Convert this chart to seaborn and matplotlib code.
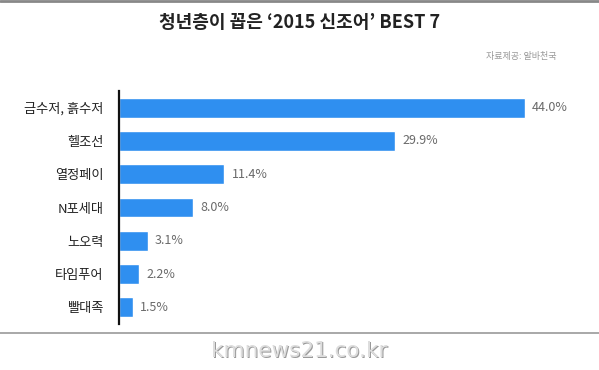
import matplotlib
matplotlib.use('Agg')
import pandas as pd
import seaborn as sns
import matplotlib.pyplot as plt

sns.set_style('white')
plt.rcParams['font.family'] = ['Noto Sans CJK KR', 'DejaVu Sans']

# 2015 신조어 순위 (%)
words = ['금수저, 흙수저', '헬조선', '열정페이', 'N포세대', '노오력', '타임푸어', '빨대족']
shares = [44.0, 29.9, 11.4, 8.0, 3.1, 2.2, 1.5]
value_labels = ['44.0%', '29.9%', '11.4%', '8.0%', '3.1%', '2.2%', '1.5%']

df = pd.DataFrame({'word': words, 'share': shares})

fig = plt.figure(figsize=(5.99, 3.70), dpi=100)
ax = fig.add_axes([119 / 599, 1 - 324 / 370, 461 / 599, 233 / 370])

sns.barplot(data=df, x='share', y='word', orient='h', color='#2f8ff0',
            width=0.6, ax=ax, saturation=1)

ax.set_xlim(0, 50)
ax.set_xlabel('')
ax.set_ylabel('')
ax.set_xticks([])
ax.tick_params(axis='y', length=0, pad=11, labelsize=9.5, labelcolor='#222222')
for s in ['top', 'right', 'bottom']:
    ax.spines[s].set_visible(False)
ax.spines['left'].set_color('#111111')
ax.spines['left'].set_linewidth(1.6)

for i, (v, lab) in enumerate(zip(shares, value_labels)):
    ax.text(v + 0.8, i, lab, va='center', ha='left', fontsize=9,
            color='#6a6a6a', fontweight='light')

# 제목, 출처, 구분선
fig.text(0.5, 1 - 22 / 370, '청년층이 꼽은 ‘2015 신조어’ BEST 7', ha='center',
         va='center', fontsize=13, fontweight='bold', color='#222222')
fig.text(556 / 599, 1 - 56 / 370, '자료제공: 알바천국', ha='right', va='center',
         fontsize=6.5, color='#999999')
fig.add_artist(plt.Line2D([0, 1], [1 - 1 / 370, 1 - 1 / 370], color='#888888',
                          lw=2, transform=fig.transFigure))
fig.add_artist(plt.Line2D([0, 1], [1 - 333 / 370, 1 - 333 / 370], color='#999999',
                          lw=1.2, transform=fig.transFigure))
fig.text(0.5 + 1 / 599, 1 - 352 / 370, 'kmnews21.co.kr', ha='center', va='center',
         fontsize=15.5, color='#9a9a9a', family=['DejaVu Sans'])
fig.text(0.5, 1 - 351 / 370, 'kmnews21.co.kr', ha='center', va='center',
         fontsize=15.5, color='#dddddd', family=['DejaVu Sans'])

fig.savefig('out.png', dpi=100, facecolor='white')
